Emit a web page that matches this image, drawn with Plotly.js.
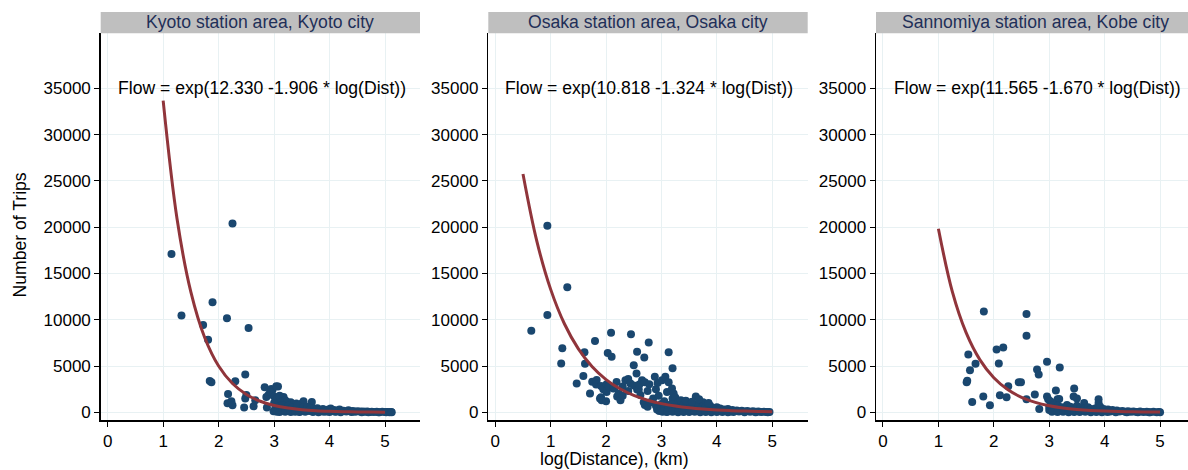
<!DOCTYPE html>
<html>
<head>
<meta charset="utf-8">
<script src="https://cdn.plot.ly/plotly-3.0.1.min.js"></script>
<style>html,body{margin:0;padding:0;background:#fff;}#chart{width:1188px;height:470px;}</style>
</head>
<body>
<div id="chart"></div>
<script>
// ---------- DATA ----------
const panelTitles = ["Kyoto station area, Kyoto city", "Osaka station area, Osaka city", "Sannomiya station area, Kobe city"];
const fitLabels = ["Flow = exp(12.330 -1.906 * log(Dist))", "Flow = exp(10.818 -1.324 * log(Dist))", "Flow = exp(11.565 -1.670 * log(Dist))"];
const yTicks = [0, 5000, 10000, 15000, 20000, 25000, 30000, 35000];
const xTicks = [0, 1, 2, 3, 4, 5];

// Kyoto observed flows
const kyotoDist = [1.15,2.25,1.89,1.33,2.15,1.72,2.54,1.81,2.48,1.84,1.87,2.30,2.17,2.16,2.23,2.25,2.46,2.63,2.48,2.50,2.66,2.83,2.97,3.07,2.86,2.87,2.95,3.04,2.90,2.93,3.00,3.05,3.10,3.17,3.13,3.00,3.20,3.25,3.30,3.50,3.68,3.70,3.55,3.23,3.53,3.40,
2.99,3.02,3.08,3.12,3.15,3.18,3.22,3.26,3.28,3.33,3.36,3.40,3.42,3.45,3.48,3.52,3.58,3.60,3.63,3.66,3.72,3.75,3.78,3.82,3.85,3.88,3.92,3.95,3.98,4.02,4.05,4.08,4.12,4.15,4.18,4.22,4.25,4.30,4.34,4.38,4.42,4.46,4.50,4.55,4.60,4.64,4.68,4.72,4.76,4.80,4.85,4.90,4.95,5.00,5.05,5.08,5.11,
3.05,3.10,3.20,3.30,3.38,3.46,3.56,3.70,3.80,3.90,4.00,4.10,4.20,4.40,4.58,4.70,4.88,5.02,5.12];
const kyotoTrips = [17100,20400,11900,10450,10150,9430,9100,7830,4080,3390,3250,3360,1990,990,1190,760,510,650,1480,1870,1300,2700,2420,2790,1650,510,2530,2820,1900,2200,1700,1400,1800,1660,1150,1000,1300,900,1100,940,1120,400,700,1150,1200,950,
120,350,600,250,800,450,150,700,300,550,200,450,750,100,350,500,250,600,150,400,300,180,450,250,120,350,200,80,300,400,150,250,100,200,300,120,180,80,220,100,150,60,120,80,100,50,90,40,70,30,60,20,50,30,40,20,30,
50,30,60,40,70,30,60,40,20,50,30,60,20,30,20,10,10,10,10];

// Osaka observed flows
const osakaDist = [0.65,0.94,0.94,1.30,1.21,1.19,1.47,1.59,1.61,1.62,1.71,1.75,1.80,1.82,1.83,1.89,1.91,1.91,1.92,1.95,2.00,2.01,2.01,2.03,2.05,2.09,2.10,2.13,2.15,2.19,2.20,2.23,2.26,2.30,2.30,2.35,2.40,2.40,2.44,2.45,2.50,2.50,2.55,2.56,2.56,2.59,2.60,2.62,2.65,2.68,2.69,2.70,2.70,2.75,2.75,2.77,2.78,2.80,2.85,2.88,2.90,2.90,2.93,2.95,3.00,3.01,3.05,3.07,3.10,3.13,3.13,3.15,3.19,3.20,3.20,3.22,3.25,3.25,3.30,3.35,
2.92,2.96,3.00,3.03,3.06,3.09,3.12,3.16,3.18,3.22,3.26,3.28,3.32,3.35,3.38,3.40,3.43,3.45,3.48,3.50,3.52,3.55,3.58,3.60,3.62,3.64,3.67,3.70,3.72,3.75,3.78,3.80,3.83,3.86,3.88,3.90,3.93,3.96,4.00,4.03,4.06,4.10,4.13,4.16,4.20,4.24,4.28,4.32,4.36,4.40,4.45,4.50,4.55,4.60,4.65,4.70,4.75,4.80,4.85,4.90,4.95,
3.02,3.10,3.20,3.30,3.40,3.50,3.60,3.70,3.80,3.90,4.00,4.10,4.20,4.30,4.50,4.70,4.92,3.44,3.55,3.68,3.85];
const osakaTrips = [8810,20150,10500,13500,6930,5270,3110,3930,6500,5240,2020,3300,7690,3000,3500,1500,2850,1630,1300,2500,1200,2200,3020,6420,2800,8590,5990,2570,2600,3280,1700,2010,1300,2800,1800,3470,2300,3600,3110,8420,5090,2900,4190,6530,2460,2460,3000,1870,3470,1080,5930,3250,800,2300,600,7550,3020,1100,1500,3830,2500,700,3180,1800,900,3470,1200,3830,2200,6500,3250,800,2570,4770,1500,2020,1000,1600,1100,700,
300,150,450,250,600,100,400,200,900,350,550,150,400,1300,250,800,500,150,1000,350,650,200,900,450,1700,300,700,150,500,1100,250,600,350,150,700,300,450,200,550,250,400,150,300,200,350,100,250,150,200,100,180,80,140,60,120,50,90,40,70,30,40,
50,30,60,20,40,30,50,20,40,20,30,40,20,30,20,10,10,1250,1150,1400,1000];

// Kobe observed flows
const kobeDist = [1.51,1.52,1.54,1.57,1.61,1.67,1.81,1.82,1.93,2.05,2.09,2.11,2.17,2.23,2.26,2.45,2.49,2.59,2.59,2.59,2.74,2.78,2.81,2.82,2.96,2.96,2.98,3.00,3.02,3.12,3.15,3.18,3.19,3.44,3.45,3.50,3.63,3.89,3.89,
3.00,3.03,3.06,3.08,3.10,3.13,3.16,3.20,3.23,3.26,3.29,3.32,3.35,3.38,3.41,3.44,3.47,3.50,3.53,3.56,3.60,3.64,3.67,3.70,3.73,3.76,3.80,3.84,3.87,3.92,3.95,3.98,4.02,4.06,4.10,4.14,4.18,4.22,4.27,4.32,4.37,4.42,4.47,4.52,4.58,4.64,4.70,4.76,4.82,4.88,4.94,4.98,
3.05,3.15,3.25,3.35,3.45,3.55,3.65,3.75,3.85,3.95,4.05,4.20,4.40,4.60,4.80,5.00];
const kobeTrips = [3250,3400,6250,4550,1120,5240,1700,10900,760,6790,5270,1840,7010,1630,2820,3250,3250,10620,8270,1410,1920,4620,4080,360,5460,1700,1400,250,1200,2350,1400,1450,4840,1700,2570,1500,1010,1410,1010,
600,350,150,800,450,250,700,300,550,150,400,800,250,600,150,450,300,700,200,500,250,400,150,550,250,350,150,450,250,600,200,350,150,300,100,250,120,200,80,150,60,120,50,100,40,80,30,60,20,50,20,30,
50,30,60,20,40,30,50,20,40,20,30,20,10,10,10,10];

// Fitted curves
const kyotoFitDist = [1,1.25,1.5,1.75,2,2.25,2.5,2.75,3,3.25,3.5,3.75,4,4.25,4.5,4.75,5];
const kyotoFitTrips = [33659,20900,12978,8059,5004,3107,1929,1198,744,462,287,178,111,69,43,27,16];
const osakaFitDist = [0.5,0.75,1,1.25,1.5,1.75,2,2.25,2.5,2.75,3,3.25,3.5,3.75,4,4.25,4.5,4.75,5];
const osakaFitTrips = [25745,18490,13280,9538,6850,4919,3533,2538,1823,1309,940,675,485,348,250,180,129,93,67];
const kobeFitDist = [1,1.25,1.5,1.75,2,2.25,2.5,2.75,3,3.25,3.5,3.75,4,4.25,4.5,4.75,5];
const kobeFitTrips = [19831,13063,8604,5668,3733,2459,1620,1067,703,463,305,201,132,87,57,38,25];

// ---------- STYLE ----------
const W = 1188, H = 470;
const FONT = "Liberation Sans, Arial, Helvetica, sans-serif";
const TXT = 17.6, TICK = 17;
const navy = "#1a476f", maroon = "#90353b", grid = "#e8f1f3";
const px = v => v / W, py = v => 1 - v / H;
const domains = [[100.7, 420], [488.3, 807.7], [876, 1188]];
const xRanges = [[-0.126, 5.63], [-0.126, 5.64], [-0.126, 5.504]];
const yDom = [py(420), py(33.3)];
const yRange = [-830, 40940];

const obs = [[kyotoDist, kyotoTrips], [osakaDist, osakaTrips], [kobeDist, kobeTrips]];
const fits = [[kyotoFitDist, kyotoFitTrips], [osakaFitDist, osakaFitTrips], [kobeFitDist, kobeFitTrips]];

const traces = [];
const layout = {
  width: W, height: H, margin: {l: 0, r: 0, t: 0, b: 0},
  paper_bgcolor: "#fff", plot_bgcolor: "#fff", showlegend: false,
  font: {family: FONT, size: TXT, color: "#000"},
  shapes: [], annotations: []
};

for (let i = 0; i < 3; i++) {
  const s = i === 0 ? "" : String(i + 1);
  traces.push({
    x: obs[i][0], y: obs[i][1], type: "scatter", mode: "markers",
    xaxis: "x" + s, yaxis: "y" + s,
    marker: {color: navy, size: 8, line: {width: 0}}, hoverinfo: "x+y"
  });
  traces.push({
    x: fits[i][0], y: fits[i][1], type: "scatter", mode: "lines",
    xaxis: "x" + s, yaxis: "y" + s,
    line: {color: maroon, width: 3, shape: "spline"}, hoverinfo: "skip"
  });
  layout["xaxis" + s] = {
    domain: [px(domains[i][0]), px(domains[i][1])], range: xRanges[i], anchor: "y" + s,
    tickvals: xTicks, ticktext: xTicks.map(String), ticks: "outside", ticklen: 5, tickcolor: "#000",
    showline: true, linecolor: "#000", linewidth: 1.5, showgrid: true, gridcolor: grid, gridwidth: 1,
    zeroline: false, tickfont: {family: FONT, size: TICK, color: "#000"}, fixedrange: true
  };
  layout["yaxis" + s] = {
    domain: yDom, range: yRange, anchor: "x" + s,
    tickvals: yTicks, ticktext: yTicks.map(String), ticks: "outside", ticklen: 5, tickcolor: "#000",
    showline: true, linecolor: "#000", linewidth: 1.5, showgrid: true, gridcolor: grid, gridwidth: 1,
    zeroline: false, tickfont: {family: FONT, size: TICK, color: "#000"}, fixedrange: true
  };
  // title strip
  layout.shapes.push({
    type: "rect", xref: "paper", yref: "paper",
    x0: px(domains[i][0]), x1: px(domains[i][1]) , y0: py(33.3), y1: py(12),
    fillcolor: "#bfbfbf", line: {width: 0}, layer: "above"
  });
  const stripEnd = i === 2 ? 1195.4 : domains[i][1];
  layout.annotations.push({
    text: panelTitles[i], xref: "paper", yref: "paper",
    x: px((domains[i][0] + stripEnd) / 2), y: py(22.5), xanchor: "center", yanchor: "middle",
    showarrow: false, font: {family: FONT, size: TXT, color: "#1f2f58"}
  });
  layout.annotations.push({
    text: fitLabels[i], xref: "x" + s, yref: "y" + s, x: 2.78, y: 35000,
    xanchor: "center", yanchor: "middle", showarrow: false,
    font: {family: FONT, size: TXT, color: "#000"}
  });
}
layout.annotations.push({
  text: "Number of Trips", xref: "paper", yref: "paper", x: px(19.5), y: py(235),
  textangle: -90, xanchor: "center", yanchor: "middle", showarrow: false,
  font: {family: FONT, size: TXT, color: "#000"}
});
layout.annotations.push({
  text: "log(Distance), (km)", xref: "paper", yref: "paper", x: px(614), y: py(459),
  xanchor: "center", yanchor: "middle", showarrow: false,
  font: {family: FONT, size: TXT, color: "#000"}
});

Plotly.newPlot("chart", traces, layout, {staticPlot: true, displayModeBar: false});
</script>
</body>
</html>
